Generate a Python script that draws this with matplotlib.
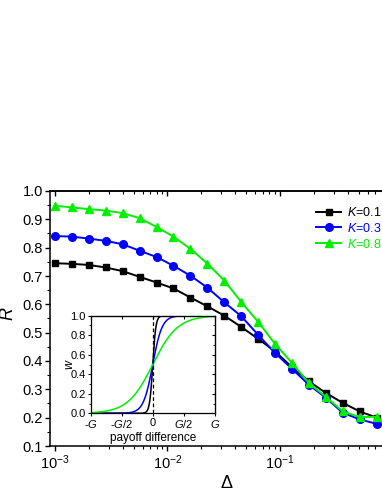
import numpy as np
import matplotlib
matplotlib.use("Agg")
import matplotlib.pyplot as plt
from matplotlib.ticker import LogLocator, MultipleLocator, NullFormatter, FixedLocator, FormatStrFormatter

plt.rcParams['font.family'] = ['Liberation Sans', 'DejaVu Sans']
plt.rcParams['mathtext.fontset'] = 'custom'
plt.rcParams['mathtext.rm'] = 'Liberation Sans'
plt.rcParams['mathtext.it'] = 'Liberation Sans:italic'
plt.rcParams['mathtext.default'] = 'regular'

# ---- data ----
delta = [0.001, 0.00141, 0.002, 0.00283, 0.004, 0.00566, 0.008, 0.0113, 0.016, 0.0226,
         0.032, 0.0453, 0.064, 0.0905, 0.128, 0.181, 0.256, 0.362, 0.512, 0.724]
R_k01 = [0.745, 0.743, 0.739, 0.730, 0.717, 0.697, 0.677, 0.656, 0.624, 0.593,
         0.560, 0.520, 0.478, 0.434, 0.378, 0.328, 0.287, 0.252, 0.222, 0.200]
R_k03 = [0.841, 0.839, 0.832, 0.824, 0.812, 0.789, 0.767, 0.736, 0.701, 0.659,
         0.607, 0.558, 0.492, 0.428, 0.372, 0.316, 0.270, 0.217, 0.194, 0.178]
R_k08 = [0.948, 0.942, 0.936, 0.931, 0.922, 0.904, 0.873, 0.839, 0.796, 0.744,
         0.684, 0.608, 0.538, 0.460, 0.393, 0.322, 0.273, 0.222, 0.202, 0.203]
K_values = [0.1, 0.3, 0.8]
labels = ['$\\mathit{K}$=0.1', '$\\mathit{K}$=0.3', '$\\mathit{K}$=0.8']
colors = ['#000000', '#0000ff', '#00f000']
markers = ['s', 'o', '^']
msizes = [4.5, 5.5, 6.0]

inset_ticks = [-1, -0.5, 0, 0.5, 1]
inset_ticklabels = ['-$\\mathit{G}$', '-$\\mathit{G}$/2', '0', '$\\mathit{G}$/2', '$\\mathit{G}$']
inset_scale = 0.25  # effective noise width in units of G

W, H = 382, 494
fig = plt.figure(figsize=(W / 100, H / 100), dpi=100)

# main axes
ax = fig.add_axes([50 / W, (H - 446) / H, 340 / W, 255 / H])
for y, c, m, ms, lab in zip([R_k01, R_k03, R_k08], colors, markers, msizes, labels):
    ax.plot(delta, y, color=c, marker=m, markersize=ms, lw=1.4, label=lab)
ax.set_xscale('log')
ax.set_xlim(10 ** -3.0444, 10 ** (-3.0444 + 340 / 112.5))
ax.set_ylim(0.1, 1.0)
ax.yaxis.set_major_locator(MultipleLocator(0.1))
ax.yaxis.set_minor_locator(MultipleLocator(0.05))
ax.yaxis.set_major_formatter(FormatStrFormatter('%.1f'))
ax.xaxis.set_major_locator(LogLocator(base=10, numticks=10))
ax.xaxis.set_minor_locator(LogLocator(base=10, subs=np.arange(2, 10), numticks=20))
ax.xaxis.set_minor_formatter(NullFormatter())
ax.tick_params(which='major', direction='out', length=3.5, width=1.0, labelsize=10.5, pad=1.5)
ax.tick_params(which='minor', direction='out', length=2, width=0.8)
for s in ax.spines.values():
    s.set_linewidth(1.1)

top = ax.secondary_xaxis('top')
top.xaxis.set_major_locator(LogLocator(base=10, numticks=10))
top.xaxis.set_minor_locator(LogLocator(base=10, subs=np.arange(2, 10), numticks=20))
top.tick_params(which='major', direction='in', length=3.5, width=1.0, labelbottom=False, labeltop=False)
top.tick_params(which='minor', direction='in', length=2, width=0.8)
top.spines['top'].set_linewidth(1.1)

ax.set_ylabel('R', fontsize=13, fontstyle='italic')
ax.yaxis.set_label_coords(-0.098, 0.52)
ax.set_xlabel('Δ', fontsize=13)
ax.xaxis.set_label_coords(0.52, -0.115)

leg = ax.legend(loc='upper left', bbox_to_anchor=((316 - 50) / 340, (446 - 206) / 255),
                frameon=False, fontsize=9, handlelength=2.0, handletextpad=0.45,
                labelspacing=0.22, borderpad=0, borderaxespad=0)
for t, c in zip(leg.get_texts(), colors):
    t.set_color(c)

# inset
ins = fig.add_axes([90.5 / W, (H - 413.3) / H, 124.5 / W, 97.6 / H])
xs = np.linspace(-1, 1, 401)
for k, c in zip(K_values, colors):
    w = 1.0 / (1.0 + np.exp(-xs / (k * inset_scale)))
    ins.plot(xs, w, color=c, lw=1.1)
ins.axvline(0, color='black', lw=0.9, ls=(0, (3, 2)))
ins.set_xlim(-1, 1)
ins.set_ylim(0, 1)
ins.xaxis.set_major_locator(FixedLocator(inset_ticks))
ins.set_xticklabels(inset_ticklabels)
ins.yaxis.set_major_locator(MultipleLocator(0.2))
ins.yaxis.set_minor_locator(MultipleLocator(0.1))
ins.yaxis.set_major_formatter(FormatStrFormatter('%.1f'))
ins.tick_params(which='major', direction='out', length=2.5, width=0.8, labelsize=8, pad=1)
ins.tick_params(which='minor', direction='out', length=1.5, width=0.6)
for s in ins.spines.values():
    s.set_linewidth(0.9)
itop = ins.secondary_xaxis('top')
itop.xaxis.set_major_locator(FixedLocator(inset_ticks))
itop.tick_params(direction='in', length=2.5, width=0.8, labeltop=False)
iright = ins.secondary_yaxis('right')
iright.yaxis.set_major_locator(MultipleLocator(0.2))
iright.yaxis.set_minor_locator(MultipleLocator(0.1))
iright.tick_params(which='major', direction='in', length=2.5, width=0.8, labelright=False)
iright.tick_params(which='minor', direction='in', length=1.5, width=0.6)
ins.set_xlabel('payoff difference', fontsize=8.5, labelpad=1)
ins.set_ylabel('w', fontsize=9, fontstyle='italic')
ins.yaxis.set_label_coords(-0.125, 0.5)

fig.savefig('out.png', dpi=100)
